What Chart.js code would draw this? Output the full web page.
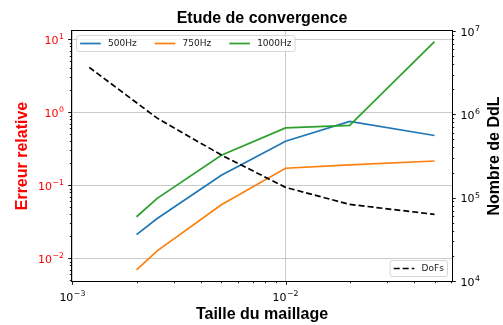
<!DOCTYPE html>
<html>
<head>
<meta charset="utf-8">
<script src="https://cdn.jsdelivr.net/npm/chart.js@4/dist/chart.umd.min.js"></script>
<style>
  html, body { margin: 0; padding: 0; background: #ffffff; }
  #wrap { width: 503px; height: 325px; }
</style>
</head>
<body>
<div id="wrap"><canvas id="c" width="503" height="325"></canvas></div>
<script>
// Mesh sizes and relative error per frequency
const meshSizes = [0.002, 0.0025, 0.005, 0.01, 0.02, 0.05];
const err500  = [0.021, 0.035, 0.137, 0.40, 0.75, 0.48];
const err750  = [0.0069, 0.0126, 0.054, 0.171, 0.19, 0.215];
const err1000 = [0.037, 0.066, 0.257, 0.61, 0.66, 9.3];

// Number of degrees of freedom per mesh size
const dofSizes  = [0.0012, 0.0025, 0.005, 0.01, 0.02, 0.05];
const dofCounts = [3.66e6, 9.0e5, 3.25e5, 1.33e5, 8.3e4, 6.3e4];

// Labels
const seriesLabels = ['500Hz', '750Hz', '1000Hz'];
const dofLabel = 'DoFs';
const chartTitle = 'Etude de convergence';
const xTitle = 'Taille du maillage';
const yTitle = 'Erreur relative';
const y2Title = 'Nombre de DdL';

function isDecade(v) {
  const l = Math.log10(v);
  return Math.abs(l - Math.round(l)) < 1e-9;
}
function exponentText(v) {
  return String(Math.round(Math.log10(v))).replace('-', '\u2212');
}
// All 1..9 x 10^n positions inside the axis range
function logTicks(scale) {
  const min = scale.min, max = scale.max;
  const out = [];
  for (let e = Math.floor(Math.log10(min)) - 1; e <= Math.ceil(Math.log10(max)); e++) {
    for (let m = 1; m <= 9; m++) {
      const v = parseFloat((m * Math.pow(10, e)).toPrecision(12));
      if (v >= min * 0.9999 && v <= max * 1.0001) out.push({ value: v, major: m === 1 });
    }
  }
  scale.ticks = out;
}

const BLACK = '#000000';
const RED = '#ff0000';
const GRID = '#c4c4c4';
const BASE_FONT = '11px "DejaVu Sans"';
const EXP_FONT = '7.8px "DejaVu Sans"';
const TITLE_FONT = 'bold 16px "Liberation Sans", Arial, sans-serif';
const LEGEND_FONT = '9px "DejaVu Sans"';

const lineStyle = { borderWidth: 1.7, pointRadius: 0, tension: 0, fill: false };

// "10" with a raised exponent; y is the baseline of "10"
function drawPower(ctx, v, x, y, align, color) {
  const exp = exponentText(v);
  ctx.font = BASE_FONT;
  const wb = ctx.measureText('10').width;
  ctx.font = EXP_FONT;
  const we = ctx.measureText(exp).width;
  const w = wb + we + 0.5;
  let x0 = x;
  if (align === 'center') x0 = x - w / 2;
  else if (align === 'right') x0 = x - w;
  ctx.fillStyle = color;
  ctx.textAlign = 'left';
  ctx.textBaseline = 'alphabetic';
  ctx.font = BASE_FONT;
  ctx.fillText('10', x0, y);
  ctx.font = EXP_FONT;
  ctx.fillText(exp, x0 + wb + 0.5, y - 4.6);
}

// Ticks, tick labels, frame, titles and both legends
const decor = {
  id: 'decor',
  afterDraw(chart) {
    const { ctx, chartArea: ca, scales } = chart;
    ctx.save();

    // tick marks (outward, short for minor ticks)
    ctx.strokeStyle = BLACK;
    ctx.lineWidth = 0.9;
    ctx.beginPath();
    scales.x.ticks.forEach(t => {
      const p = Math.round(scales.x.getPixelForValue(t.value)) + 0.5;
      const len = isDecade(t.value) ? 3.8 : 2.2;
      ctx.moveTo(p, ca.bottom); ctx.lineTo(p, ca.bottom + len);
    });
    scales.y.ticks.forEach(t => {
      const p = Math.round(scales.y.getPixelForValue(t.value)) + 0.5;
      const len = isDecade(t.value) ? 3.8 : 2.2;
      ctx.moveTo(ca.left, p); ctx.lineTo(ca.left - len, p);
    });
    scales.y2.ticks.forEach(t => {
      const p = Math.round(scales.y2.getPixelForValue(t.value)) + 0.5;
      const len = isDecade(t.value) ? 3.8 : 2.2;
      ctx.moveTo(ca.right, p); ctx.lineTo(ca.right + len, p);
    });
    ctx.stroke();

    // decade labels
    scales.x.ticks.filter(t => isDecade(t.value)).forEach(t => {
      drawPower(ctx, t.value, scales.x.getPixelForValue(t.value), ca.bottom + 19.7, 'center', BLACK);
    });
    scales.y.ticks.filter(t => isDecade(t.value)).forEach(t => {
      drawPower(ctx, t.value, ca.left - 8, scales.y.getPixelForValue(t.value) + 4.6, 'right', RED);
    });
    scales.y2.ticks.filter(t => isDecade(t.value)).forEach(t => {
      drawPower(ctx, t.value, ca.right + 8.5, scales.y2.getPixelForValue(t.value) + 4.6, 'left', BLACK);
    });

    // frame
    ctx.strokeStyle = BLACK;
    ctx.lineWidth = 1;
    ctx.strokeRect(Math.round(ca.left) - 0.5, Math.round(ca.top) - 0.5,
      Math.round(ca.right - ca.left) + 1, Math.round(ca.bottom - ca.top) + 1);

    // titles
    const cx = (ca.left + ca.right) / 2;
    const cy = (ca.top + ca.bottom) / 2;
    ctx.font = TITLE_FONT;
    ctx.fillStyle = BLACK;
    ctx.textAlign = 'center';
    ctx.textBaseline = 'alphabetic';
    ctx.fillText(chartTitle, cx, 22.5);
    ctx.fillText(xTitle, cx, 319);

    ctx.save();
    ctx.translate(27, cy);
    ctx.rotate(-Math.PI / 2);
    ctx.fillStyle = RED;
    ctx.fillText(yTitle, 0, 0);
    ctx.restore();

    ctx.save();
    ctx.translate(498.5, cy);
    ctx.rotate(-Math.PI / 2);
    ctx.fillStyle = BLACK;
    ctx.fillText(y2Title, 0, 0);
    ctx.restore();

    // legends
    const ds = chart.data.datasets;
    drawLegend(ctx, [ds[0], ds[1], ds[2]], ca.left + 4.5, ca.top + 4.5, 'left');
    drawLegend(ctx, [ds[3]], ca.right - 4.5, ca.bottom - 4.5 - 16, 'right');

    ctx.restore();
  }
};

function drawLegend(ctx, items, anchorX, top, side) {
  const pad = 3.6, handle = 20.7, gap = 7.2, colGap = 18, h = 16;
  ctx.font = LEGEND_FONT;
  const widths = items.map(d => ctx.measureText(d.label).width);
  let w = pad * 2;
  widths.forEach((tw, i) => { w += handle + gap + tw + (i ? colGap : 0); });
  const left = side === 'left' ? anchorX : anchorX - w;

  // rounded frame
  const r = 2.5;
  ctx.beginPath();
  ctx.moveTo(left + r, top);
  ctx.arcTo(left + w, top, left + w, top + h, r);
  ctx.arcTo(left + w, top + h, left, top + h, r);
  ctx.arcTo(left, top + h, left, top, r);
  ctx.arcTo(left, top, left + w, top, r);
  ctx.closePath();
  ctx.fillStyle = 'rgba(255,255,255,0.8)';
  ctx.fill();
  ctx.strokeStyle = 'rgba(204,204,204,0.8)';
  ctx.lineWidth = 1;
  ctx.stroke();

  let x = left + pad;
  const yc = top + h / 2;
  items.forEach((d, i) => {
    ctx.beginPath();
    ctx.setLineDash(d.borderDash || []);
    ctx.strokeStyle = d.borderColor;
    ctx.lineWidth = d.borderWidth;
    ctx.moveTo(x, yc); ctx.lineTo(x + handle, yc);
    ctx.stroke();
    ctx.setLineDash([]);
    ctx.font = LEGEND_FONT;
    ctx.fillStyle = '#222222';
    ctx.textAlign = 'left';
    ctx.textBaseline = 'middle';
    ctx.fillText(d.label, x + handle + gap, yc + 0.5);
    x += handle + gap + widths[i] + colGap;
  });
}

const toPoints = (xs, ys) => xs.map((x, i) => ({ x: x, y: ys[i] }));

new Chart(document.getElementById('c'), {
  type: 'line',
  data: {
    datasets: [
      Object.assign({ label: seriesLabels[0], data: toPoints(meshSizes, err500),
        borderColor: '#1f77b4', yAxisID: 'y', order: 3 }, lineStyle),
      Object.assign({ label: seriesLabels[1], data: toPoints(meshSizes, err750),
        borderColor: '#ff7f0e', yAxisID: 'y', order: 2 }, lineStyle),
      Object.assign({ label: seriesLabels[2], data: toPoints(meshSizes, err1000),
        borderColor: '#2ca02c', yAxisID: 'y', order: 1 }, lineStyle),
      Object.assign({ label: dofLabel, data: toPoints(dofSizes, dofCounts),
        borderColor: BLACK, borderDash: [6, 3], yAxisID: 'y2', order: 0 }, lineStyle)
    ]
  },
  options: {
    responsive: false,
    animation: false,
    devicePixelRatio: 1,
    layout: { padding: { top: 31, left: 0, right: 0, bottom: 0 } },
    plugins: { legend: { display: false }, tooltip: { enabled: false }, title: { display: false } },
    scales: {
      x: {
        type: 'logarithmic', position: 'bottom', min: 0.000996, max: 0.0604,
        afterBuildTicks: logTicks,
        afterFit: s => { s.height = 44; },
        border: { display: false },
        grid: { drawTicks: false,
          color: c => (c.tick && isDecade(c.tick.value)) ? GRID : 'rgba(0,0,0,0)', lineWidth: 0.9 },
        ticks: { display: false, autoSkip: false }
      },
      y: {
        type: 'logarithmic', position: 'left', min: 0.00487, max: 13.0,
        afterBuildTicks: logTicks,
        afterFit: s => { s.width = 72; },
        border: { display: false },
        grid: { drawTicks: false,
          color: c => (c.tick && isDecade(c.tick.value)) ? GRID : 'rgba(0,0,0,0)', lineWidth: 0.9 },
        ticks: { display: false, autoSkip: false }
      },
      y2: {
        type: 'logarithmic', position: 'right', min: 1e4, max: 1e7,
        afterBuildTicks: logTicks,
        afterFit: s => { s.width = 51; },
        border: { display: false },
        grid: { display: false, drawTicks: false },
        ticks: { display: false, autoSkip: false }
      }
    }
  },
  plugins: [decor]
});
</script>
</body>
</html>
